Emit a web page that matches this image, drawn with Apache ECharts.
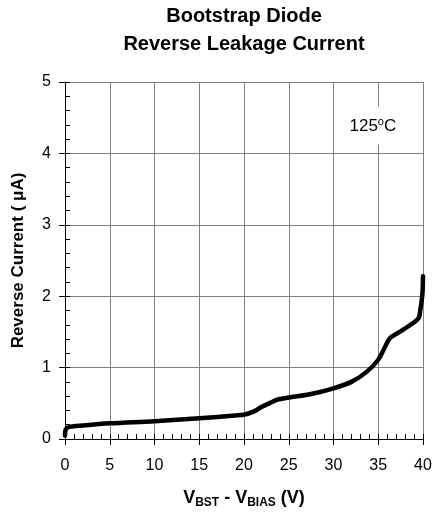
<!DOCTYPE html>
<html><head><meta charset="utf-8">
<script src="https://cdn.jsdelivr.net/npm/echarts@6/dist/echarts.min.js"></script>
<style>html,body{margin:0;padding:0;background:#fff}#c{width:433px;height:514px}</style>
</head><body><div id="c"></div>
<script>
const voltage = [0, 0.1, 0.5, 2, 5, 10, 15, 19, 20, 21, 22, 23, 23.7, 25, 27.5, 30, 32, 33.7, 35, 35.6, 36.3, 37.4, 38.5, 39.5, 39.7, 39.94, 40];
const current = [0.05, 0.14, 0.17, 0.19, 0.22, 0.25, 0.29, 0.33, 0.34, 0.38, 0.45, 0.51, 0.55, 0.58, 0.63, 0.71, 0.80, 0.94, 1.11, 1.25, 1.41, 1.50, 1.59, 1.69, 1.81, 2.04, 2.28];
const xTicks = [0, 5, 10, 15, 20, 25, 30, 35, 40];
const yTicks = [0, 1, 2, 3, 4, 5];
const tempLabel = {x: 34.4, y: 4.39};

const font = 'Liberation Sans, Arial, sans-serif';
const chart = echarts.init(document.getElementById('c'));
const grid = {left: 65, right: 10, top: 82, bottom: 75, containLabel: false, outerBoundsMode: 'none'};
chart.setOption({
  animation: false,
  title: {
    text: 'Bootstrap Diode\nReverse Leakage Current',
    left: 244, top: 2, padding: 0, textAlign: 'center',
    textStyle: {fontFamily: font, fontSize: 20, fontWeight: 'bold', color: '#000', lineHeight: 28}
  },
  grid: grid,
  xAxis: [{
    type: 'value', min: xTicks[0], max: xTicks[xTicks.length - 1], interval: 5, position: 'bottom',
    axisLine: {show: true, onZero: false, lineStyle: {color: '#000', width: 1}},
    axisTick: {show: true, inside: false, length: 6, lineStyle: {color: '#000'}},
    axisLabel: {color: '#000', fontFamily: font, fontSize: 16, margin: 19},
    splitLine: {show: true, lineStyle: {color: '#808080', width: 1}},
    name: '{b|V}{s|BST}{b| - V}{s|BIAS}{b| (V)}',
    nameLocation: 'middle', nameGap: 48,
    nameTextStyle: {
      rich: {
        b: {fontFamily: font, fontSize: 18, fontWeight: 'bold', color: '#000', lineHeight: 22, verticalAlign: 'middle'},
        s: {fontFamily: font, fontSize: 12, fontWeight: 'bold', color: '#000', lineHeight: 22, verticalAlign: 'bottom'}
      }
    }
  }, {
    type: 'value', min: xTicks[0], max: xTicks[xTicks.length - 1], interval: 1, position: 'bottom',
    axisLine: {show: false},
    axisTick: {show: true, inside: true, length: 5, lineStyle: {color: '#000'}},
    axisLabel: {show: false}, splitLine: {show: false}
  }],
  yAxis: [{
    type: 'value', min: yTicks[0], max: yTicks[yTicks.length - 1], interval: 1, position: 'left',
    axisLine: {show: true, onZero: false, lineStyle: {color: '#000', width: 1}},
    axisTick: {show: true, inside: false, length: 6, lineStyle: {color: '#000'}},
    axisLabel: {color: '#000', fontFamily: font, fontSize: 16, margin: 14},
    splitLine: {show: true, lineStyle: {color: '#808080', width: 1}},
    name: 'Reverse Current ( μA)', nameLocation: 'middle', nameGap: 38,
    nameTextStyle: {fontFamily: font, fontSize: 17, fontWeight: 'bold', color: '#000'}
  }, {
    type: 'value', min: yTicks[0], max: yTicks[yTicks.length - 1], interval: 0.2, position: 'left',
    axisLine: {show: false},
    axisTick: {show: true, inside: true, length: 5, lineStyle: {color: '#000'}},
    axisLabel: {show: false}, splitLine: {show: false}
  }],
  series: [{
    type: 'line', xAxisIndex: 0, yAxisIndex: 0,
    data: voltage.map((v, i) => [v, current[i]]),
    showSymbol: false, smooth: 0.3,
    lineStyle: {color: '#000', width: 4.5, cap: 'round', join: 'round'},
    z: 3
  }, {
    type: 'scatter', xAxisIndex: 0, yAxisIndex: 0,
    data: [[tempLabel.x, tempLabel.y]], symbolSize: 0, z: 4,
    itemStyle: {opacity: 1, color: '#000'},
    label: {
      show: true, position: 'inside', color: '#000', textBorderWidth: 0, opacity: 1,
      formatter: '{t|125}{u|o}{t|C}',
      backgroundColor: '#fff', padding: [10, 6, 10, 6],
      rich: {
        t: {fontFamily: font, fontSize: 17, color: '#000', textBorderWidth: 0, lineHeight: 18, verticalAlign: 'bottom'},
        u: {fontFamily: font, fontSize: 11, color: '#000', textBorderWidth: 0, lineHeight: 18, verticalAlign: 'top', padding: [0, 0, 5, 0]}
      }
    },
    silent: true
  }]
});
</script></body></html>
